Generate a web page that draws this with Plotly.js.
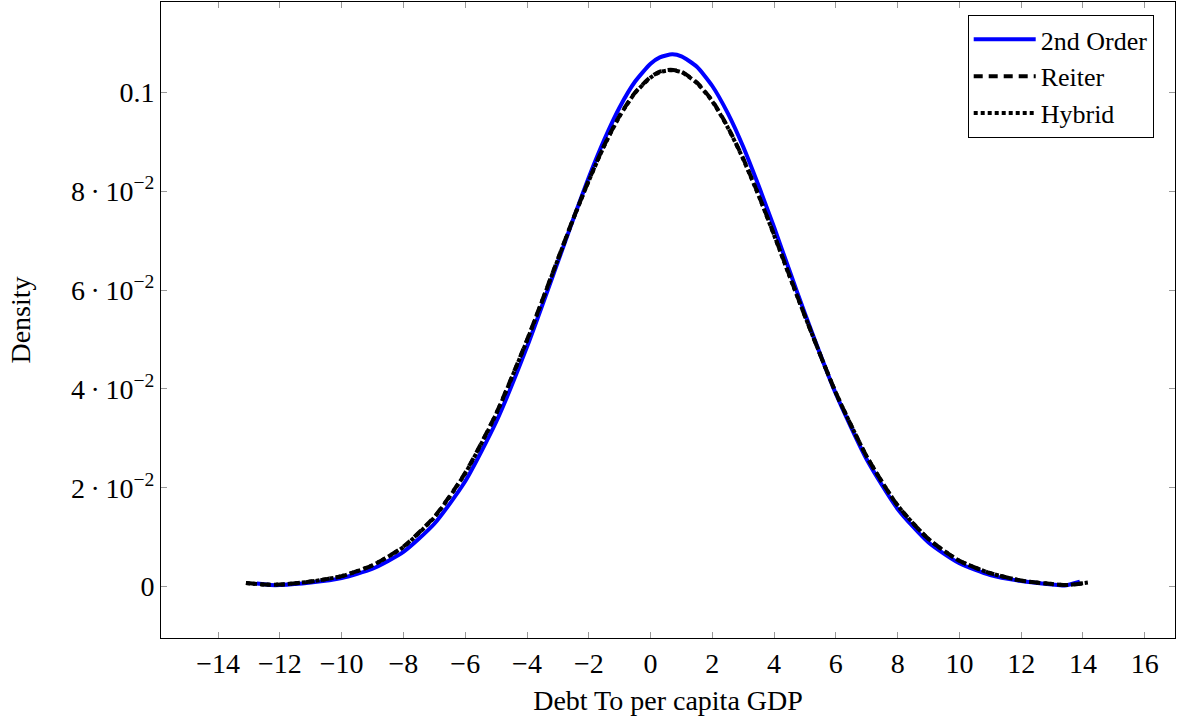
<!DOCTYPE html>
<html>
<head>
<meta charset="utf-8">
<script src="https://cdn.plot.ly/plotly-3.0.1.min.js"></script>
<style>html,body{margin:0;padding:0;background:#fff;}#chart{width:1179px;height:721px;}</style>
</head>
<body>
<div id="chart"></div>
<script>
// ---- data ----
const xSecond = [-12.75, -12.3, -12, -11, -10, -9, -8, -7, -6, -5, -4, -3, -2.5, -2, -1.5, -1, -0.5, 0, 0.3, 0.7, 1, 1.5, 2, 2.5, 3, 3.5, 4, 4.5, 5, 6, 7, 8, 9, 10, 11, 12, 13, 13.4, 13.9];
const ySecond = [0.0006, 0.0003, 0.0003, 0.0008, 0.0017, 0.0036, 0.0070, 0.0127, 0.0213, 0.0333, 0.0485, 0.0657, 0.0744, 0.0828, 0.0904, 0.0970, 0.1022, 0.1058, 0.1071, 0.1077, 0.1073, 0.1052, 0.1013, 0.0958, 0.0890, 0.0811, 0.0727, 0.0639, 0.0552, 0.0390, 0.0257, 0.0157, 0.0089, 0.0047, 0.0023, 0.0011, 0.0004, 0.0002, 0.0010];

const xReiter = [-13.1, -12.5, -12, -11, -10, -9, -8, -7, -6, -5, -4, -3, -2.5, -2, -1.5, -1, -0.5, 0, 0.3, 0.65, 1, 1.5, 2, 2.5, 3, 3.5, 4, 4.5, 5, 6, 7, 8, 9, 10, 11, 12, 13, 13.5, 14.16];
const yReiter = [0.0007, 0.0004, 0.0004, 0.0010, 0.0021, 0.0043, 0.0081, 0.0141, 0.0230, 0.0350, 0.0499, 0.0663, 0.0745, 0.0822, 0.0893, 0.0953, 0.1000, 0.1031, 0.1042, 0.1046, 0.1042, 0.1020, 0.0983, 0.0930, 0.0866, 0.0792, 0.0712, 0.0629, 0.0547, 0.0392, 0.0263, 0.0164, 0.0096, 0.0052, 0.0027, 0.0012, 0.0005, 0.0003, 0.0008];

const xHybrid = [-13.1, -12.5, -12, -11, -10, -9, -8, -7, -6, -5, -4, -3, -2.5, -2, -1.5, -1, -0.5, 0, 0.3, 0.65, 1, 1.5, 2, 2.5, 3, 3.5, 4, 4.5, 5, 6, 7, 8, 9, 10, 11, 12, 13, 13.5, 14.16];
const yHybrid = [0.0007, 0.0004, 0.0004, 0.0010, 0.0021, 0.0043, 0.0080, 0.0140, 0.0229, 0.0349, 0.0498, 0.0662, 0.0744, 0.0821, 0.0892, 0.0952, 0.0999, 0.1030, 0.1041, 0.1045, 0.1041, 0.1019, 0.0982, 0.0929, 0.0865, 0.0791, 0.0711, 0.0628, 0.0547, 0.0392, 0.0263, 0.0164, 0.0096, 0.0052, 0.0027, 0.0012, 0.0005, 0.0003, 0.0008];

const seriesNames = ["2nd Order", "Reiter", "Hybrid"];
const xTickVals = [-14, -12, -10, -8, -6, -4, -2, 0, 2, 4, 6, 8, 10, 12, 14, 16];
const xTickText = ["\u221214", "\u221212", "\u221210", "\u22128", "\u22126", "\u22124", "\u22122", "0", "2", "4", "6", "8", "10", "12", "14", "16"];
const yTickVals = [0, 0.02, 0.04, 0.06, 0.08, 0.1];
const yTickText = ["0", "2\u2009\u00b7\u200910<sup>\u22122</sup>", "4\u2009\u00b7\u200910<sup>\u22122</sup>", "6\u2009\u00b7\u200910<sup>\u22122</sup>", "8\u2009\u00b7\u200910<sup>\u22122</sup>", "0.1"];
const xTitle = "Debt To per capita GDP";
const yTitle = "Density";

const FONT = "Liberation Serif, Times New Roman, serif";

const traces = [
  {x: xSecond, y: ySecond, name: seriesNames[0], type: "scatter", mode: "lines",
   line: {color: "#0000ff", width: 4, shape: "spline", smoothing: 0.6}},
  {x: xReiter, y: yReiter, name: seriesNames[1], type: "scatter", mode: "lines",
   line: {color: "#000000", width: 4, dash: "9px,6px", shape: "spline", smoothing: 0.6}},
  {x: xHybrid, y: yHybrid, name: seriesNames[2], type: "scatter", mode: "lines",
   line: {color: "#000000", width: 4, dash: "4px,3px", shape: "spline", smoothing: 0.6}}
];

const axisCommon = {
  showgrid: false, zeroline: false, showline: true, linecolor: "#000", linewidth: 1,
  mirror: "allticks", ticks: "inside", ticklen: 6, tickcolor: "#999", tickwidth: 1,
  tickfont: {family: FONT, size: 28, color: "#000"}
};

const layout = {
  width: 1179, height: 721,
  margin: {l: 161, r: 4, t: 2, b: 83},
  paper_bgcolor: "#fff", plot_bgcolor: "#fff",
  font: {family: FONT, size: 28, color: "#000"},
  showlegend: true,
  legend: {x: 0.979, y: 0.9796, xanchor: "right", yanchor: "top",
    bgcolor: "#fff", bordercolor: "#000", borderwidth: 1,
    font: {family: FONT, size: 26, color: "#000"}, itemwidth: 62, tracegroupgap: 0},
  xaxis: Object.assign({}, axisCommon, {
    range: [-15.85, 16.98], tickmode: "array", tickvals: xTickVals, ticktext: xTickText,
    title: {text: xTitle, font: {family: FONT, size: 28, color: "#000"}, standoff: 12}
  }),
  yaxis: Object.assign({}, axisCommon, {
    range: [-0.01042, 0.1183], tickmode: "array", tickvals: yTickVals, ticktext: yTickText,
    automargin: true,
    title: {text: yTitle, font: {family: FONT, size: 28, color: "#000"}, standoff: 32}
  })
};

Plotly.newPlot("chart", traces, layout, {displayModeBar: false, staticPlot: true});
</script>
</body>
</html>
